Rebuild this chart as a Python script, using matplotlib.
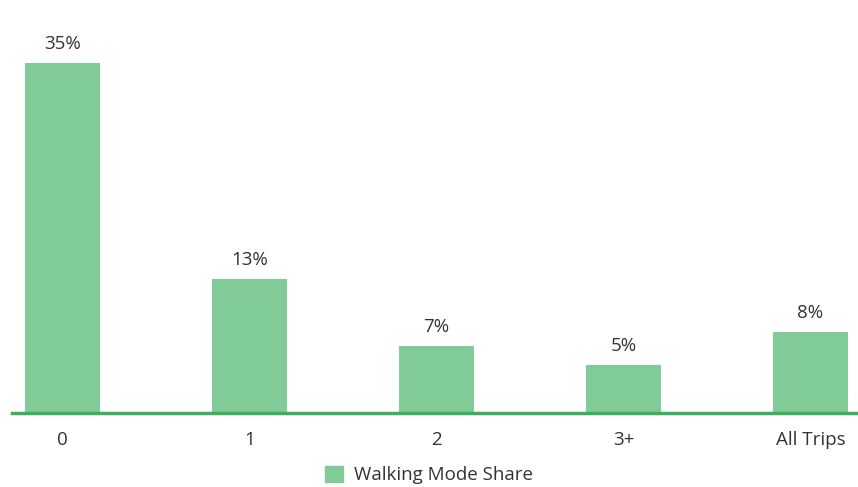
import matplotlib.pyplot as plt
from matplotlib.patches import Patch

# walking mode share by number of vehicles in household
categories = ['0', '1', '2', '3+', 'All Trips']
walk_share = [35.0, 13.4, 6.7, 4.8, 8.1]

bar_color = '#80cb98'
line_color = '#3daf5e'
text_color = '#333333'

plt.rcParams['font.family'] = ['Open Sans', 'DejaVu Sans']

fig = plt.figure(figsize=(8.58, 4.87), dpi=100)
ax = fig.add_axes([12 / 858, 1 - 413 / 487, 846 / 858, 400 / 487])

x = range(len(categories))
bars = ax.bar(x, walk_share, width=0.40, color=bar_color, zorder=2)
ax.axhline(0, color=line_color, linewidth=2.5, zorder=3, clip_on=False)

for b, v in zip(bars, walk_share):
    ax.text(b.get_x() + b.get_width() / 2, v + 1.0, f'{v:.0f}%',
            ha='center', va='bottom', fontsize=13.5, color=text_color)

ax.set_xlim(-0.27, 4.254)
ax.set_ylim(0, 40)
ax.set_xticks(list(x))
ax.set_xticklabels(categories, fontsize=13.5, color=text_color)
ax.tick_params(axis='x', length=0, pad=13)
ax.set_yticks([])
for s in ax.spines.values():
    s.set_visible(False)

fig.legend(handles=[Patch(color=bar_color, label='Walking Mode Share')],
           loc='center', bbox_to_anchor=(0.5, 1 - 475 / 487), frameon=False,
           fontsize=13.5, handlelength=0.95, handleheight=0.95, handletextpad=0.6,
           labelcolor=text_color)

fig.savefig('out.png', dpi=100)
